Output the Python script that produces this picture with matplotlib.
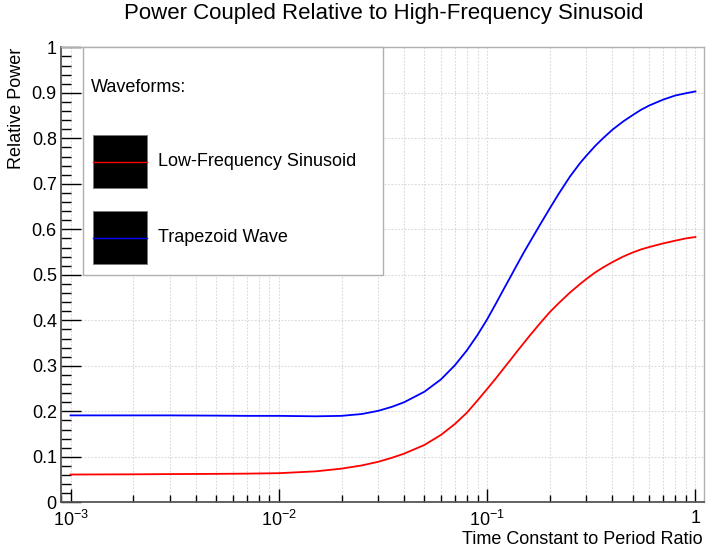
import matplotlib
matplotlib.use("Agg")
import matplotlib.pyplot as plt
from matplotlib.patches import Rectangle
from matplotlib.lines import Line2D
from matplotlib.ticker import FixedLocator, NullFormatter

plt.rcParams['font.family'] = ['Liberation Sans', 'DejaVu Sans']
plt.rcParams['mathtext.fontset'] = 'custom'
plt.rcParams['mathtext.rm'] = 'Liberation Sans'
plt.rcParams['mathtext.it'] = 'Liberation Sans:italic'
plt.rcParams['mathtext.bf'] = 'Liberation Sans:bold'

# Time constant / period ratio
ratio = [0.001, 0.002, 0.003, 0.005, 0.007, 0.01, 0.015, 0.02, 0.025, 0.03,
         0.035, 0.04, 0.05, 0.06, 0.07, 0.08, 0.09, 0.1, 0.11, 0.12,
         0.13, 0.14, 0.15, 0.16, 0.18, 0.2, 0.22, 0.25, 0.28, 0.3,
         0.33, 0.36, 0.4, 0.45, 0.5, 0.55, 0.6, 0.7, 0.8, 0.9,
         1.0]

# Relative power, low-frequency sinusoid
power_lowfreq = [0.061, 0.0615, 0.062, 0.0625, 0.063, 0.064, 0.068, 0.074, 0.081, 0.089,
                 0.098, 0.107, 0.126, 0.148, 0.172, 0.197, 0.224, 0.249, 0.272, 0.294,
                 0.314, 0.333, 0.350, 0.366, 0.394, 0.418, 0.437, 0.461, 0.480, 0.491,
                 0.505, 0.516, 0.528, 0.540, 0.549, 0.556, 0.561, 0.569, 0.575, 0.580,
                 0.583]

# Relative power, trapezoid wave
power_trapezoid = [0.191, 0.191, 0.191, 0.1905, 0.190, 0.190, 0.189, 0.190, 0.194, 0.201,
                   0.210, 0.220, 0.243, 0.270, 0.301, 0.334, 0.368, 0.402, 0.436, 0.468,
                   0.497, 0.524, 0.549, 0.571, 0.611, 0.646, 0.677, 0.716, 0.746, 0.762,
                   0.783, 0.800, 0.819, 0.837, 0.851, 0.863, 0.872, 0.885, 0.894, 0.899,
                   0.903]

series_labels = ["Low-Frequency Sinusoid", "Trapezoid Wave"]
series_colors = ["#ff0000", "#0000ff"]

x_major = [1e-3, 1e-2, 1e-1, 1.0]
x_major_labels = [r"$10^{-3}$", r"$10^{-2}$", r"$10^{-1}$", "1"]
y_major = [0, 0.1, 0.2, 0.3, 0.4, 0.5, 0.6, 0.7, 0.8, 0.9, 1]
y_major_labels = ["0", "0.1", "0.2", "0.3", "0.4", "0.5", "0.6", "0.7", "0.8", "0.9", "1"]

W, H = 706, 550
fig = plt.figure(figsize=(W / 100, H / 100), dpi=100)

left, right, top, bottom = 61, 704, 47.3, 502.3
ax = fig.add_axes([left / W, 1 - bottom / H, (right - left) / W, (bottom - top) / H])

ax.set_xscale("log")
ax.set_xlim(0.0009, 1.1)
ax.set_ylim(0, 1)

ax.plot(ratio, power_lowfreq, color=series_colors[0], lw=1.3, zorder=3)
ax.plot(ratio, power_trapezoid, color=series_colors[1], lw=1.3, zorder=3)

# ticks
x_minor = [m * 10.0 ** e for e in range(-4, 1) for m in range(2, 10)]
ax.xaxis.set_major_locator(FixedLocator(x_major))
ax.xaxis.set_minor_locator(FixedLocator(x_minor))
ax.set_xticklabels(x_major_labels)
ax.xaxis.set_minor_formatter(NullFormatter())
ax.set_yticks(y_major)
ax.set_yticklabels(y_major_labels)
ax.yaxis.set_minor_locator(FixedLocator([i * 0.02 for i in range(51)]))

ax.tick_params(axis="both", which="both", direction="in", color="black",
               width=1.0, labelsize=13, top=False, right=False)
ax.tick_params(axis="x", which="major", length=9.4, pad=5.5)
ax.tick_params(axis="x", which="minor", length=4.7)
ax.tick_params(axis="y", which="major", length=14.4, pad=3)
ax.tick_params(axis="y", which="minor", length=7.2)

# grid
grid_style = dict(color="#d9d9d9", lw=0.8, ls=(0, (1.5, 1.5)))
ax.grid(True, which="major", axis="both", **grid_style)
ax.grid(True, which="minor", axis="x", **grid_style)
ax.set_axisbelow(True)

for side in ("left", "bottom"):
    ax.spines[side].set_color("#555555")
    ax.spines[side].set_linewidth(1.3)
for side in ("top", "right"):
    ax.spines[side].set_color("#b0b0b0")
    ax.spines[side].set_linewidth(1.0)

# titles
fig.text(384 / W, 1 - 14 / H, "Power Coupled Relative to High-Frequency Sinusoid",
         ha="center", va="center", fontsize=16)
fig.text(703 / W, 1 - 539 / H, "Time Constant to Period Ratio",
         ha="right", va="center", fontsize=13)
fig.text(17 / W, 1 - top / H, "Relative Power", rotation=90,
         ha="center", va="top", fontsize=13)

# legend box
fig.add_artist(Rectangle((82.7 / W, 1 - 275 / H), (383 - 82.7) / W, (275 - 47) / H,
                         transform=fig.transFigure, facecolor="white",
                         edgecolor="#b0b0b0", lw=1.0, zorder=5))
fig.text(91 / W, 1 - 87 / H, "Waveforms:", ha="left", va="center", fontsize=13, zorder=6)

entry_tops = [135, 211]
for top_px, lab, col in zip(entry_tops, series_labels, series_colors):
    fig.add_artist(Rectangle((93 / W, 1 - (top_px + 53) / H), 54 / W, 53 / H,
                             transform=fig.transFigure, facecolor="black",
                             edgecolor="#777777", lw=0.6, zorder=6))
    ymid = 1 - (top_px + 26.5) / H
    fig.add_artist(Line2D([93 / W, 147 / W], [ymid, ymid], transform=fig.transFigure,
                          color=col, lw=1.0, zorder=7))
    fig.text(158 / W, ymid, lab, ha="left", va="center", fontsize=13, zorder=7)

fig.savefig("out.png", dpi=100)
